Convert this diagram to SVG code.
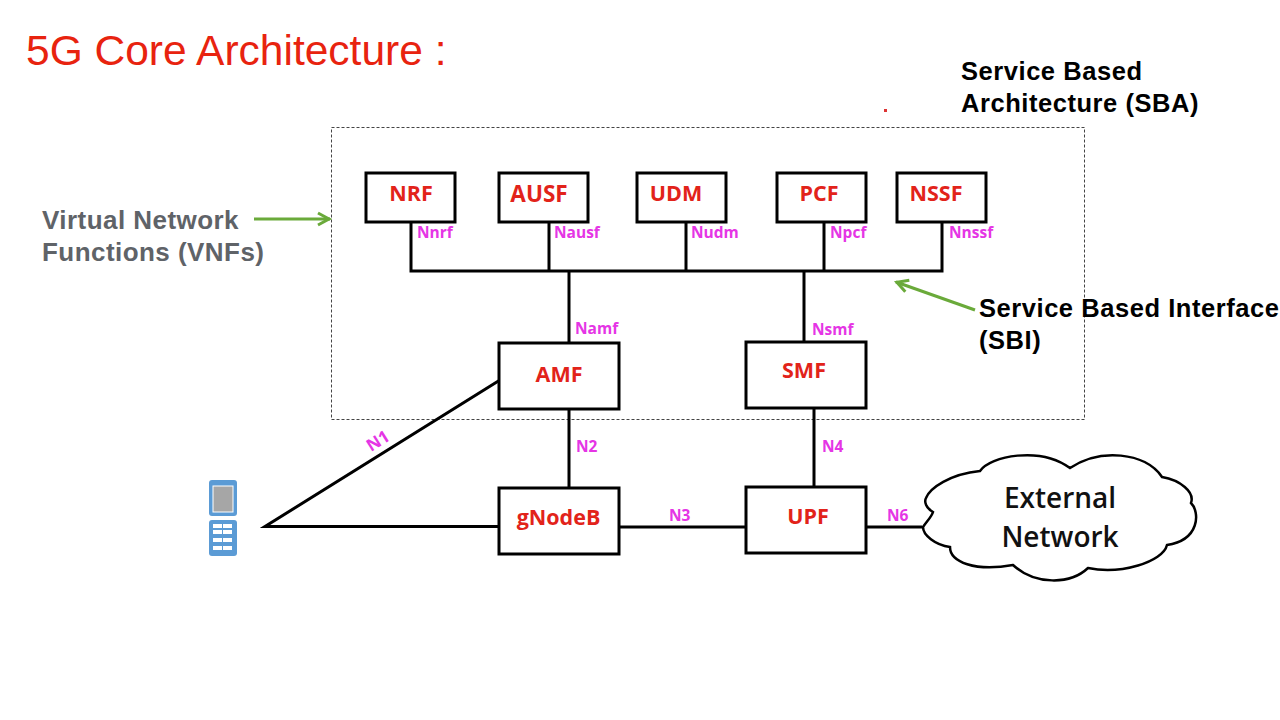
<svg xmlns="http://www.w3.org/2000/svg" width="1280" height="720" viewBox="0 0 1280 720">
<defs>
<marker id="ga" markerUnits="userSpaceOnUse" markerWidth="18" markerHeight="18" refX="14" refY="8" orient="auto"><path d="M2 2L13 8L2 14" fill="none" stroke="#6aaa3a" stroke-width="3"/></marker>
</defs>
<style>
text{font-family:"Open Sans","Liberation Sans",sans-serif}
.b{fill:#fff;stroke:#000;stroke-width:3}
.n{fill:#e2231a;font-family:"Open Sans",sans-serif;font-weight:700;font-size:21.5px;text-anchor:middle}
.m{fill:#e535e5;font-weight:700;font-size:15.5px}
.l{fill:none;stroke:#000;stroke-width:3}
.k{fill:#000;font-family:"Liberation Sans",sans-serif;font-weight:700;font-size:25.5px;letter-spacing:.55px}
.g{fill:#5f6368;font-family:"Liberation Sans",sans-serif;font-weight:700;font-size:26px;letter-spacing:.45px}
.a{fill:none;stroke:#6aaa3a;stroke-width:3;marker-end:url(#ga)}
</style>
<rect width="1280" height="720" fill="#fff"/>
<text x="26" y="65" style="font-family:'Liberation Sans',sans-serif;font-size:42.500px;fill:#e8230f">5G Core Architecture :</text>
<rect x="884" y="109" width="3" height="3" fill="#d33"/>
<rect x="331.500" y="127.500" width="753" height="292" fill="none" stroke="#444" stroke-width="1" stroke-dasharray="3 2"/>
<g id="connectors">
<path class="l" d="M411 222V271M549 222V271M686 222V271M824 222V271M942 222V271M409.500 271H943.500M569 271V343M804 271V342M569 409V488M814 408V487M619 527H746M866 527H922M500 380L265 526.500H500"/>
<path class="a" d="M254 219H330"/>
<path class="a" d="M975 310L896 282"/>
</g>
<g id="nrf"><rect class="b" x="366" y="173" width="89" height="49"/><text class="n" x="411" y="201">NRF</text><text class="m" x="417" y="238">Nnrf</text></g>
<g id="ausf"><rect class="b" x="499" y="173" width="89" height="49"/><text class="n" x="539" y="202" style="font-size:22.500px">AUSF</text><text class="m" x="554" y="238">Nausf</text></g>
<g id="udm"><rect class="b" x="637" y="173" width="89" height="49"/><text class="n" x="676" y="201">UDM</text><text class="m" x="691" y="238">Nudm</text></g>
<g id="pcf"><rect class="b" x="777" y="173" width="89" height="49"/><text class="n" x="819" y="201">PCF</text><text class="m" x="830" y="238">Npcf</text></g>
<g id="nssf"><rect class="b" x="897" y="173" width="89" height="49"/><text class="n" x="936" y="201">NSSF</text><text class="m" x="949" y="238">Nnssf</text></g>
<g id="amf"><rect class="b" x="499" y="343" width="120" height="66"/><text class="n" x="559" y="382">AMF</text><text class="m" x="575" y="334">Namf</text></g>
<g id="smf"><rect class="b" x="746" y="342" width="120" height="66"/><text class="n" x="804" y="378">SMF</text><text class="m" x="812" y="335">Nsmf</text></g>
<g id="gnodeb"><rect class="b" x="499" y="488" width="120" height="66"/><text class="n" x="558.500" y="525">gNodeB</text></g>
<g id="upf"><rect class="b" x="746" y="487" width="120" height="66"/><text class="n" x="808" y="524">UPF</text></g>
<g id="labels">
<text class="m" x="576" y="452">N2</text><text class="m" x="822" y="452">N4</text><text class="m" x="669" y="521">N3</text><text class="m" x="887" y="521">N6</text>
<text class="m" style="font-size:17px" transform="translate(371 452) rotate(-32)">N1</text>
<text class="k" x="961" y="80">Service Based</text><text class="k" x="961" y="112">Architecture (SBA)</text>
<text class="k" x="979" y="317">Service Based Interface</text><text class="k" x="979" y="349">(SBI)</text>
<text class="g" x="42" y="229">Virtual Network</text><text class="g" x="42" y="261">Functions (VNFs)</text>
</g>
<g id="ue">
<rect x="209" y="480" width="28" height="36" rx="3" fill="#5b9bd5"/><rect x="213" y="486" width="20" height="26" fill="#a6a6a6" stroke="#fff"/>
<rect x="209" y="520" width="28" height="36" rx="3" fill="#5b9bd5"/>
<path d="M213 526H233M213 532H233M213 540H233M213 548H233" stroke="#fff" stroke-width="4" stroke-dasharray="9 1"/>
</g>
<g id="external">
<path fill="#fff" stroke="#000" stroke-width="2.500" d="M923 527C928 520 932 516 933 512C926 508 924 502 926 498C930 488 950 474 980 471C990 456 1040 446 1070 468C1100 448 1145 452 1162 477C1180 480 1195 492 1191 503C1200 512 1200 540 1167 545C1163 562 1120 575 1088 568C1070 585 1035 585 1013 565C975 572 950 562 950 547C935 545 923 535 923 527Z"/>
<text x="1060" y="508" text-anchor="middle" style="font-family:'Open Sans',sans-serif;font-weight:600;font-size:28px;fill:#111">External</text>
<text x="1060" y="547" text-anchor="middle" style="font-family:'Open Sans',sans-serif;font-weight:600;font-size:28px;fill:#111">Network</text>
</g>
</svg>
